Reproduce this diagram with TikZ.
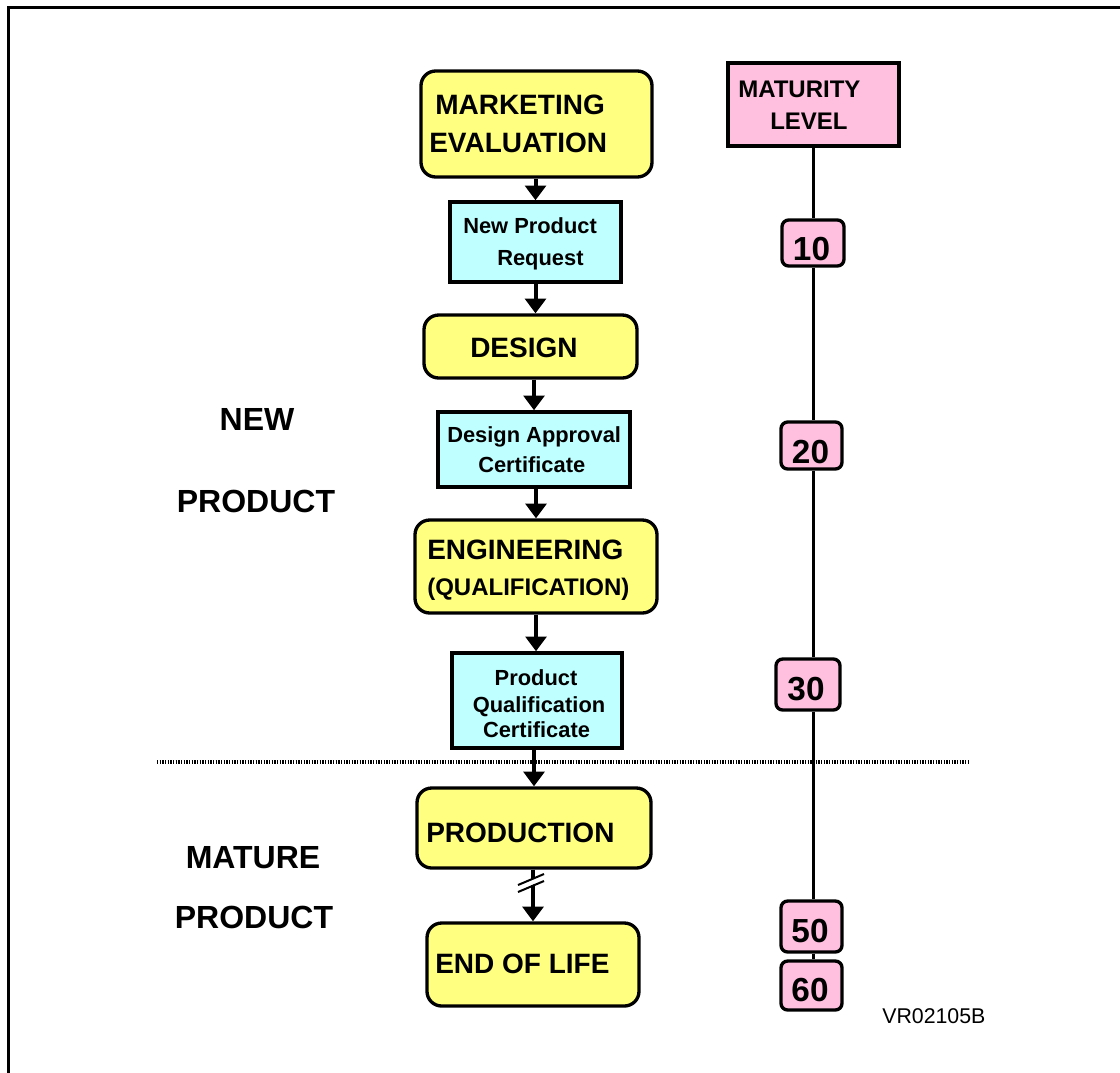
\documentclass[tikz,border=0pt]{standalone}
\usepackage{fontspec}
\setmainfont{Liberation Sans}
\usetikzlibrary{arrows.meta,fit,calc}
\definecolor{yfill}{RGB}{255,255,128}
\definecolor{cfill}{RGB}{192,255,255}
\definecolor{pfill}{RGB}{255,192,224}
\tikzset{
  ybox/.style={draw, line width=2.5pt, fill=yfill, rounded corners=11pt, inner sep=0pt},
  cbox/.style={draw, line width=2.6pt, fill=cfill, inner sep=0pt},
  pbox/.style={draw, line width=2.5pt, fill=pfill, inner sep=0pt},
  nbox/.style={pbox, rounded corners=5pt},
  arr/.style={line width=3pt, -{Triangle[width=15.5pt,length=11pt]}},
  tbig/.style={font=\fontsize{21}{25}\selectfont\bfseries, inner sep=0pt},
  tqual/.style={font=\fontsize{18}{22}\selectfont\bfseries, inner sep=0pt},
  tsmall/.style={font=\fontsize{16.4}{20}\selectfont\bfseries, inner sep=0pt},
  tmat/.style={font=\fontsize{18}{22}\selectfont\bfseries, inner sep=0pt},
  tnum/.style={font=\fontsize{25}{28}\selectfont\bfseries, inner sep=0pt},
  tside/.style={font=\fontsize{24}{28}\selectfont\bfseries, inner sep=0pt},
  tref/.style={font=\fontsize{16}{19}\selectfont, inner sep=0pt},
  sepline/.style={line width=3pt, dash pattern=on 1pt off 1pt},
  vline/.style={line width=2pt},
}
\begin{document}
\begin{tikzpicture}[x=0.75pt, y=-0.75pt]
\useasboundingbox (0,0) rectangle (1120,1072);
\begin{scope}
\clip (0,0) rectangle (1120,1072);
\draw[line width=2.4pt] (8.5,1090) -- (8.5,7.5) -- (1140,7.5);
\end{scope}

% process boxes
\node[ybox, fit={(421,71)(652,177)}] (me) {};
\node[cbox, fit={(450,202)(621,282)}] (npr) {};
\node[ybox, fit={(424,315)(637,378)}] (des) {};
\node[cbox, fit={(438,412)(630,487)}] (dac) {};
\node[ybox, fit={(415,520)(657,613)}] (eng) {};
\node[cbox, fit={(452,653)(622,748)}] (pqc) {};
\node[ybox, fit={(417,788)(651,868)}] (prod) {};
\node[ybox, fit={(427,923)(639,1006)}] (eol) {};

% texts of process boxes
\node[tbig, anchor=base west] (me1) at (435,114) {MARKETING};
\node[tbig, anchor=base west] (me2) at (429,152) {EVALUATION};
\node[tsmall, anchor=base west] (npr1) at (463,233) {New Product};
\node[tsmall, anchor=base west] (npr2) at (497,265) {Request};
\node[tbig, anchor=base west] (des1) at (470,357) {DESIGN};
\node[tsmall, anchor=base west] (dac1) at (447,442) {Design Approval};
\node[tsmall, anchor=base west] (dac2) at (478,472) {Certificate};
\node[tbig, anchor=base west] (eng1) at (427,559) {ENGINEERING};
\node[tqual, anchor=base west] (eng2) at (427,595) {(QUALIFICATION)};
\node[tsmall, anchor=base] (pqc1) at (536,685) {Product};
\node[tsmall, anchor=base] (pqc2) at (539,712) {Qualification};
\node[tsmall, anchor=base] (pqc3) at (536.5,737) {Certificate};
\node[tbig, anchor=base west] (prod1) at (426,842) {PRODUCTION};
\node[tbig, anchor=base west] (eol1) at (435,973) {END OF LIFE};

% flow arrows
\draw[arr] (me.south -| npr.north) -- (npr.north);
\draw[arr] (npr.south) -- (npr.south |- des.north);
\draw[arr] (des.south -| dac.north) -- (dac.north);
\draw[arr] (dac.south -| eng.north) -- (eng.north);
\draw[arr] (eng.south) -- (eng.south |- pqc.north);
\draw[arr] (pqc.south -| prod.north) -- (prod.north);
\draw[arr] (prod.south -| eol.north) -- (eol.north);
% break mark on the last arrow
\coordinate (bk) at (531,883);
\fill[white] ($(bk)+(-13,8)$) -- ($(bk)+(13,-3)$) -- ($(bk)+(13,-9)$) -- ($(bk)+(-13,2)$) -- cycle;
\draw[line width=1.5pt] ($(bk)+(-13,9)$) -- ($(bk)+(13,-2)$);
\draw[line width=1.5pt] ($(bk)+(-13,2)$) -- ($(bk)+(13,-9)$);

% separator
\draw[sepline] (157,762) -- (970,762);

% maturity column
\node[pbox, fit={(728,63)(899,146)}] (mat) {};
\node[tmat, anchor=base west] (mat1) at (738,97) {MATURITY};
\node[tmat, anchor=base west] (mat2) at (770,129) {LEVEL};
\node[nbox, fit={(782,220)(844,266)}] (m10) {};
\node[nbox, fit={(781,422)(842,469)}] (m20) {};
\node[nbox, fit={(776,659)(840,710)}] (m30) {};
\node[nbox, fit={(781,901)(842,952)}] (m50) {};
\node[nbox, fit={(781,961)(842,1010)}] (m60) {};
\draw[vline] (mat.south) -- (m10.north -| mat.south);
\draw[vline] (m10.south -| mat.south) -- (m20.north -| mat.south);
\draw[vline] (m20.south -| mat.south) -- (m30.north -| mat.south);
\draw[vline] (m30.south -| mat.south) -- (m50.north -| mat.south);
\draw[vline] (m50.south -| mat.south) -- (m60.north -| mat.south);
\node[tnum, anchor=base] (n10) at (811.5,260) {10};
\node[tnum, anchor=base] (n20) at (810.5,463) {20};
\node[tnum, anchor=base] (n30) at (806,700) {30};
\node[tnum, anchor=base] (n50) at (810,942) {50};
\node[tnum, anchor=base] (n60) at (810,1001) {60};

% side labels
\node[tside, anchor=base] (new) at (257,430.5) {NEW};
\node[tside, anchor=base] (newp) at (256,512.5) {PRODUCT};
\node[tside, anchor=base] (mature) at (253,868.5) {MATURE};
\node[tside, anchor=base] (matp) at (254,928.5) {PRODUCT};

\node[tref, anchor=base west] (ref) at (882,1023) {VR02105B};
\end{tikzpicture}
\end{document}
